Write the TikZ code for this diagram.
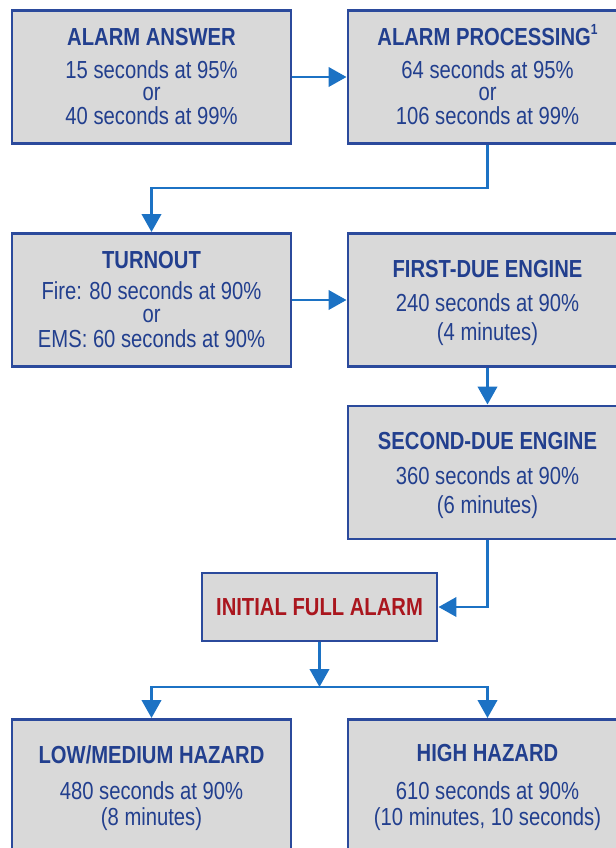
\documentclass[tikz,border=0pt]{standalone}
\usepackage{fontspec}
\setmainfont{Liberation Sans}[FakeStretch=0.82]
\usetikzlibrary{arrows.meta}
\definecolor{boxfill}{HTML}{D9D9D9}
\definecolor{boxline}{HTML}{2B4A9C}
\definecolor{navytext}{HTML}{223F8E}
\definecolor{connblue}{HTML}{1C72C4}
\definecolor{alarmred}{HTML}{AA161E}
\begin{document}
\begin{tikzpicture}[x=0.75pt,y=-0.75pt,
  box/.style={rectangle, draw=boxline, fill=boxfill, line width=2.2pt,
    minimum width=209.25pt, minimum height=99.75pt, inner sep=0pt},
  ttl/.style={anchor=base, inner sep=0pt, text=navytext,
    font=\fontsize{18.5}{21}\selectfont\bfseries},
  txt/.style={anchor=base, inner sep=0pt, text=navytext,
    font=\fontsize{18.5}{21}\selectfont},
  conn/.style={draw=connblue, line width=2.2pt,
    -{Triangle[length=13.5pt,width=14.5pt]}}]
\useasboundingbox (0,0) rectangle (615,848);
% boxes
\node[box] (a1) at (151.5,77) {};
\node[box] (a2) at (487.5,77) {};
\node[box] (t) at (151.5,300) {};
\node[box] (fd) at (487.5,300) {};
\node[box] (sd) at (487.5,472.5) {};
\node[box, minimum width=176.25pt, minimum height=51pt, text=alarmred,
  font=\fontsize{18.5}{21}\selectfont\bfseries] (ifa) at (319.5,607) {INITIAL FULL ALARM};
\node[box] (lm) at (151.5,786) {};
\node[box] (hh) at (487.5,786) {};
% texts
\node[ttl] (a1l1) at (151.5,46) {ALARM ANSWER};
\node[txt] (a1l2) at (151.5,78.5) {15 seconds at 95\%};
\node[txt] (a1l3) at (151.5,101) {or};
\node[txt] (a1l4) at (151.5,125) {40 seconds at 99\%};
\node[ttl] (a2l1) at (487.5,46) {ALARM PROCESSING\raisebox{0.45em}{\fontsize{11}{11}\selectfont 1}};
\node[txt] (a2l2) at (487.5,78.5) {64 seconds at 95\%};
\node[txt] (a2l3) at (487.5,101) {or};
\node[txt] (a2l4) at (487.5,125) {106 seconds at 99\%};
\node[ttl] (tl1) at (151.5,268) {TURNOUT};
\node[txt] (tl2) at (151.5,300) {Fire: 80 seconds at 90\%};
\node[txt] (tl3) at (151.5,322.5) {or};
\node[txt] (tl4) at (151.5,347) {EMS: 60 seconds at 90\%};
\node[ttl] (fdl1) at (487.5,277) {FIRST-DUE ENGINE};
\node[txt] (fdl2) at (487.5,311) {240 seconds at 90\%};
\node[txt] (fdl3) at (487.5,340) {(4 minutes)};
\node[ttl] (sdl1) at (487.5,449) {SECOND-DUE ENGINE};
\node[txt] (sdl2) at (487.5,484) {360 seconds at 90\%};
\node[txt] (sdl3) at (487.5,513) {(6 minutes)};
\node[ttl] (lml1) at (151.5,763) {LOW/MEDIUM HAZARD};
\node[txt] (lml2) at (151.5,799) {480 seconds at 90\%};
\node[txt] (lml3) at (151.5,825) {(8 minutes)};
\node[ttl] (hhl1) at (487.5,761) {HIGH HAZARD};
\node[txt] (hhl2) at (487.5,799) {610 seconds at 90\%};
\node[txt] (hhl3) at (487.5,825) {(10 minutes, 10 seconds)};
% connectors
\coordinate (k1) at (487.5,188);
\coordinate (k2) at (319.5,687);
\draw[conn] (a1) -- (a2);
\draw[conn] (a2.south) -- (k1) -| (t.north);
\draw[conn] (t) -- (fd);
\draw[conn] (fd) -- (sd);
\draw[conn] (sd.south) |- (ifa.east);
\draw[conn] (ifa.south) -- (k2);
\draw[conn] (k2) -| (lm.north);
\draw[conn] (k2) -| (hh.north);
\end{tikzpicture}
\end{document}
